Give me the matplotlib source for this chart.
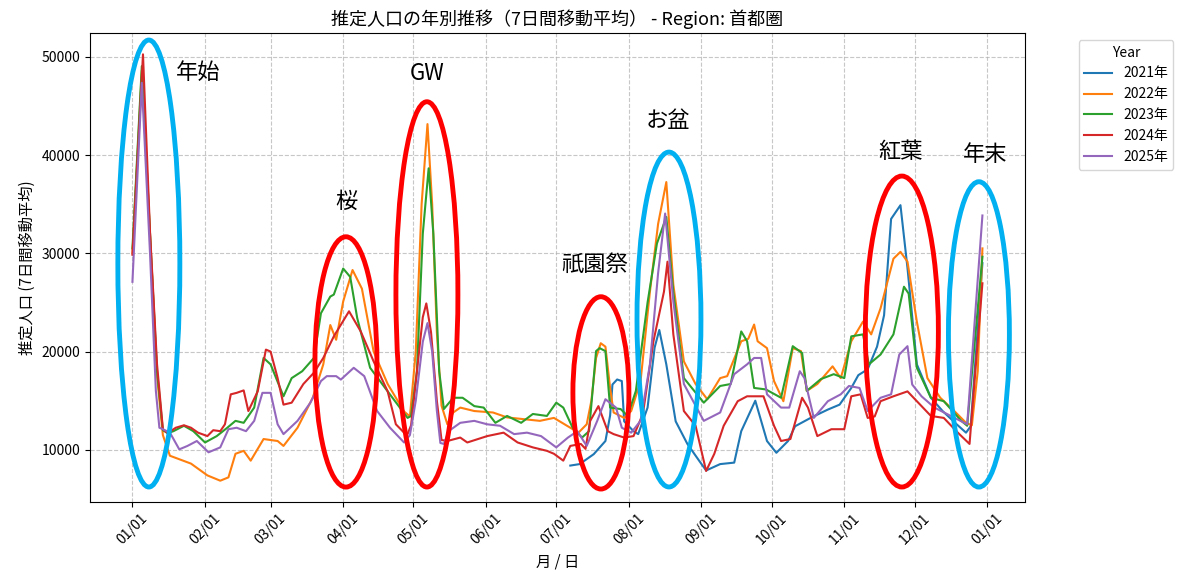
import numpy as np
import pandas as pd
import matplotlib
matplotlib.use("Agg")
import matplotlib.pyplot as plt
import matplotlib.dates as mdates
from matplotlib.patches import Ellipse

plt.rcParams['font.family'] = ['Noto Sans CJK JP', 'DejaVu Sans']

# values: day of year (0 = Jan 1) and 7-day moving average
days_2021 = [187, 191, 197, 202, 204, 205, 207, 209, 210, 214, 216, 220, 223, 225, 228, 232, 237, 242,
             245, 251, 257, 260, 266, 271, 275, 280, 283, 290, 297, 302, 307, 310, 314, 318, 321, 324,
             328, 331, 335, 341, 346, 352, 356, 358, 363]
vals_2021 = [8400, 8550, 9560, 10900, 13500, 16650, 17160, 17000, 12900, 11900, 11600, 14300, 20400, 22200,
             18700, 12900, 10600, 8900, 7900, 8550, 8700, 11900, 15000, 10900, 9700, 10900, 12400, 13300,
             14100, 14600, 16300, 17600, 18200, 20500, 23700, 33500, 34900, 28500, 18700, 15300, 13950,
             12600, 11750, 12400, 29000]

days_2022 = [0, 4, 7.5, 10.5, 13, 16, 25, 32, 37.5, 41, 44, 47.5, 50.5, 56, 62, 64.5, 70.5, 77, 81.5, 84.5,
             87, 90, 94, 98, 103, 109, 116, 118.5, 121, 123.5, 126, 128, 130, 132, 134.5, 137, 140, 146,
             154, 160, 166, 174, 180, 187, 190.5, 194, 196, 198, 200, 202, 204, 205.5, 210, 213, 217,
             221, 224.5, 228, 231, 235.5, 240.5, 245.5, 251, 254, 260, 263, 265.5, 267, 271, 274, 278,
             282, 285.5, 288, 292.5, 299, 302.5, 307, 312, 315.5, 319.5, 325, 328, 331, 335, 339.5, 345,
             351, 356, 358.5, 361, 363]
vals_2022 = [30000, 48600, 32000, 17500, 11500, 9400, 8600, 7400, 6860, 7200, 9600, 9900, 8900, 11100,
             10900, 10400, 12250, 15300, 18700, 22700, 21200, 25100, 28300, 26400, 20000, 16700, 13900,
             13400, 20000, 35000, 43150, 35000, 22000, 14500, 12600, 13800, 14300, 13950, 13800, 13300,
             13150, 12950, 13250, 12250, 11750, 12600, 15000, 19350, 20850, 20500, 16300, 13800, 13250,
             13950, 17000, 26100, 33000, 37250, 26800, 19000, 16700, 15150, 17300, 17500, 21050, 21300,
             22750, 21050, 20350, 17000, 14950, 20350, 20050, 16000, 16700, 18500, 17300, 21050, 23050,
             21750, 24400, 29450, 30150, 29150, 23050, 17300, 15300, 13950, 12750, 12500, 18000, 30500]

days_2023 = [0, 4, 7.5, 10.5, 13, 15, 17.5, 22, 26, 31, 36, 40.5, 44, 47.5, 52, 56, 59, 64.5, 68, 72.5,
             77.5, 80.5, 84.5, 86, 90, 93, 96, 101.5, 109, 117.5, 119, 121.5, 124, 126.5, 128.5, 131,
             133, 137, 141, 146, 150, 155, 160, 166, 171, 177, 181, 184, 188, 192, 195, 198, 199.5, 202,
             204, 208.5, 211.5, 215, 220, 224, 228, 231, 235.5, 244, 251, 255.5, 260, 262.5, 265.5,
             270.5, 277, 282, 286, 288, 294, 299.5, 304, 307, 312, 314.5, 319.5, 325, 329.5, 331.5, 335,
             341, 346.5, 354, 356.5, 363]
vals_2023 = [30500, 49050, 32000, 18000, 12000, 11700, 11900, 12450, 11900, 10750, 11400, 12250, 12950,
             12750, 14300, 19350, 18700, 15450, 17300, 18000, 19350, 23900, 25600, 25800, 28450, 27600,
             23400, 18350, 15950, 13250, 13450, 18000, 32000, 38650, 32000, 18000, 14150, 15300, 15300,
             14450, 14300, 12750, 13450, 12750, 13650, 13450, 14800, 14300, 12250, 11250, 11900, 20050,
             20350, 20050, 14300, 14150, 13450, 16000, 25000, 31000, 33700, 26000, 17300, 14800, 16500,
             16700, 22050, 21050, 16300, 16150, 15300, 20550, 19850, 16000, 17200, 17700, 17300, 21550,
             21750, 18700, 19700, 21750, 26600, 25900, 18350, 15300, 14950, 12950, 12450, 29650]

days_2024 = [0, 4.5, 7.5, 10.5, 13, 15, 18.5, 22, 25, 28, 32, 34.5, 37.5, 39.5, 42, 44.5, 47.5, 49.5,
             53.5, 57, 59, 62, 64.5, 68, 73, 77.5, 81.5, 86, 92.5, 97.5, 103, 109, 112.5, 116, 117.5,
             119, 121.5, 124, 125.5, 127.5, 130, 132, 134.5, 140, 143, 151.5, 158.5, 164.5, 171, 177,
             180, 184, 187, 191.5, 193.5, 195.5, 199, 203, 205.5, 210, 214, 218, 222.5, 227, 228.5, 231,
             235.5, 240.5, 245, 248.5, 252.5, 258.5, 262.5, 269.5, 274, 277, 281, 286, 288.5, 292.5,
             298.5, 304, 307, 311, 314, 317, 319.5, 325, 331, 335, 341, 346.5, 352.5, 357.5, 363]
vals_2024 = [29850, 50250, 32200, 18700, 12100, 11700, 12250, 12500, 12250, 11750, 11400, 12000, 11900,
             12600, 15650, 15800, 16050, 13950, 15950, 20200, 20000, 17300, 14600, 14800, 16700, 17850,
             19350, 21550, 24100, 22050, 19000, 15950, 12600, 11750, 11600, 12500, 18000, 23500, 24900,
             22000, 15000, 11000, 10900, 11250, 10750, 11400, 11750, 10750, 10250, 9900, 9600, 8900,
             10400, 10600, 10100, 12950, 14450, 11900, 11600, 11250, 11400, 13650, 21050, 26100, 29150,
             21750, 13950, 12450, 7850, 9600, 12450, 14950, 15450, 15450, 12450, 10900, 11100, 15300,
             14300, 11400, 12100, 12100, 15450, 15650, 13250, 13400, 14950, 15450, 15950, 14950, 13450,
             13250, 11750, 10600, 26950]

days_2025 = [0, 4, 7.5, 10, 11.5, 13, 16, 20, 23.5, 27.5, 32.5, 37.5, 41, 44.5, 48.5, 52, 55.5, 59, 62,
             64.5, 70.5, 76, 80.5, 83, 87, 89, 94.5, 99, 104.5, 110, 116, 118.5, 121, 124, 126, 128,
             130, 131.5, 133, 135, 140, 146, 151.5, 157, 163, 168.5, 174.5, 181, 186, 190, 194, 198.5,
             202, 206.5, 209, 213, 217, 221, 224.5, 227.5, 231, 235.5, 244, 251, 257, 262.5, 265.5,
             268.5, 271, 277, 280.5, 285, 287, 291, 297, 302.5, 306, 310.5, 314, 319.5, 324, 327.5, 331,
             333, 337, 342.5, 349.5, 356.5, 363]
vals_2025 = [27100, 47350, 30000, 16000, 12250, 12100, 11750, 10050, 10400, 10900, 9750, 10250, 12100,
             12250, 11900, 12950, 15800, 15800, 12600, 11600, 12950, 14800, 17000, 17500, 17500, 17150,
             18350, 17500, 13950, 12250, 10750, 11500, 15000, 21000, 22900, 20000, 14000, 10700, 10600,
             11900, 12750, 12950, 12600, 12450, 11600, 11750, 11400, 10250, 11250, 11900, 10400, 12950,
             15150, 14300, 12250, 11750, 12950, 18700, 28000, 34050, 25100, 16700, 12950, 13800, 17700,
             18700, 19350, 19350, 15650, 14300, 14300, 18000, 17300, 13250, 14950, 15650, 16500, 16300,
             13950, 15300, 15650, 19700, 20550, 16650, 15450, 14300, 13450, 12600, 33850]

years = ['2021年', '2022年', '2023年', '2024年', '2025年']
all_days = [days_2021, days_2022, days_2023, days_2024, days_2025]
all_vals = [vals_2021, vals_2022, vals_2023, vals_2024, vals_2025]

# event marks drawn over the chart (axes fraction: x, y, width, height)
blue_ring = '#00B0F0'
red_ring = '#FF0000'
rings = [(0.063, 0.5085, 0.0663, 0.953, blue_ring),
         (0.2738, 0.2987, 0.0663, 0.5337, red_ring),
         (0.3604, 0.4427, 0.0663, 0.8215, red_ring),
         (0.5465, 0.2327, 0.0599, 0.41, red_ring),
         (0.6193, 0.3891, 0.0684, 0.714, blue_ring),
         (0.8684, 0.3635, 0.0781, 0.663, red_ring),
         (0.9508, 0.3574, 0.0652, 0.651, blue_ring)]
event_names = ['年始', '桜', 'GW', '祇園祭', 'お盆', '紅葉', '年末']
event_xy = [(0.1155, 0.9158), (0.2738, 0.6403), (0.3601, 0.9147), (0.5401, 0.5075),
            (0.6182, 0.8145), (0.8671, 0.7484), (0.9572, 0.742)]

base = pd.Timestamp('2001-01-01')

fig = plt.figure(figsize=(11.82, 5.74), dpi=100)
ax = fig.add_axes([0.0761, 0.1254, 0.7910, 0.8171])

for label, d, v in zip(years, all_days, all_vals):
    dates = base + pd.to_timedelta(d, unit='D')
    ax.plot(dates, v, label=label, linewidth=1.5)

ax.xaxis.set_major_locator(mdates.MonthLocator())
ax.xaxis.set_major_formatter(mdates.DateFormatter('%m/%d'))
plt.setp(ax.get_xticklabels(), rotation=45)
ax.grid(True, linestyle='--', alpha=0.7)

ax.set_title('推定人口の年別推移（7日間移動平均） - Region: 首都圏', fontsize=13)
ax.set_xlabel('月 / 日', fontsize=11)
ax.set_ylabel('推定人口 (7日間移動平均)', fontsize=11)
ax.legend(title='Year', bbox_to_anchor=(1.05, 1), loc='upper left')

for cx, cy, w, h, c in rings:
    ax.add_patch(Ellipse((cx, cy), w, h, transform=ax.transAxes, fill=False,
                         edgecolor=c, linewidth=3.5, clip_on=False, zorder=5))

for name, (tx, ty) in zip(event_names, event_xy):
    ax.text(tx, ty, name, transform=ax.transAxes, fontsize=16, ha='center', va='center')

fig.savefig('out.png', dpi=100)
